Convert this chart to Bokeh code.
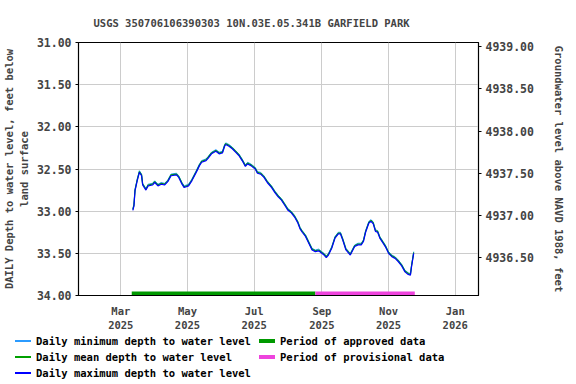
from datetime import datetime
from bokeh.plotting import figure
from bokeh.layouts import column
from bokeh.models import (Range1d, LinearAxis, FixedTicker, PrintfTickFormatter,
                          DatetimeTickFormatter, Div)
from bokeh.embed import file_html
from bokeh.resources import INLINE

TITLE = "USGS 350706106390303 10N.03E.05.341B GARFIELD PARK"
Y_LABEL_LEFT = "DAILY Depth to water level, feet below\nland surface"
Y_LABEL_RIGHT = "Groundwater level above NAVD 1988, feet"
DATUM_OFFSET = 4970.05  # elevation = DATUM_OFFSET - depth

DATES = [
    "2025-03-12", "2025-03-13", "2025-03-14", "2025-03-16", "2025-03-18", "2025-03-20",
    "2025-03-21", "2025-03-24", "2025-03-26", "2025-03-30", "2025-04-01", "2025-04-04",
    "2025-04-07", "2025-04-10", "2025-04-13", "2025-04-16", "2025-04-21", "2025-04-23",
    "2025-04-26", "2025-04-28", "2025-05-02", "2025-05-05", "2025-05-09", "2025-05-12",
    "2025-05-14", "2025-05-18", "2025-05-20", "2025-05-23", "2025-05-27", "2025-05-30",
    "2025-06-02", "2025-06-04", "2025-06-05", "2025-06-08", "2025-06-11", "2025-06-14",
    "2025-06-17", "2025-06-20", "2025-06-23", "2025-06-25", "2025-06-28", "2025-07-02",
    "2025-07-04", "2025-07-07", "2025-07-10", "2025-07-13", "2025-07-17", "2025-07-20",
    "2025-07-23", "2025-07-26", "2025-07-29", "2025-08-01", "2025-08-04", "2025-08-07",
    "2025-08-10", "2025-08-12", "2025-08-14", "2025-08-17", "2025-08-20", "2025-08-23",
    "2025-08-26", "2025-08-29", "2025-09-03", "2025-09-05", "2025-09-07", "2025-09-10",
    "2025-09-13", "2025-09-16", "2025-09-18", "2025-09-20", "2025-09-23", "2025-09-27",
    "2025-09-29", "2025-10-01", "2025-10-04", "2025-10-07", "2025-10-09", "2025-10-11",
    "2025-10-14", "2025-10-16", "2025-10-18", "2025-10-20", "2025-10-22", "2025-10-24",
    "2025-10-27", "2025-10-29", "2025-11-01", "2025-11-04", "2025-11-07", "2025-11-10",
    "2025-11-13", "2025-11-16", "2025-11-19", "2025-11-21", "2025-11-22", "2025-11-24",
]

DEPTH_MEAN = [
    32.98, 32.93, 32.75, 32.63, 32.53, 32.57,
    32.68, 32.74, 32.69, 32.68, 32.65, 32.69,
    32.67, 32.68, 32.64, 32.57, 32.56, 32.59,
    32.67, 32.71, 32.69, 32.63, 32.53, 32.45,
    32.41, 32.39, 32.36, 32.31, 32.28, 32.31,
    32.30, 32.22, 32.20, 32.22, 32.25, 32.29,
    32.33, 32.39, 32.46, 32.43, 32.45, 32.49,
    32.54, 32.55, 32.59, 32.65, 32.71, 32.77,
    32.82, 32.86, 32.92, 32.98, 33.01, 33.06,
    33.13, 33.20, 33.24, 33.29, 33.37, 33.45,
    33.47, 33.46, 33.51, 33.54, 33.51, 33.43,
    33.31, 33.26, 33.26, 33.33, 33.45, 33.51,
    33.46, 33.41, 33.39, 33.39, 33.35, 33.24,
    33.13, 33.11, 33.14, 33.23, 33.24, 33.31,
    33.37, 33.41, 33.49, 33.53, 33.55, 33.59,
    33.64, 33.71, 33.74, 33.75, 33.65, 33.49,
]

DEPTH_MIN = [
    32.97, 32.92, 32.74, 32.62, 32.52, 32.56,
    32.67, 32.73, 32.68, 32.67, 32.64, 32.68,
    32.66, 32.67, 32.63, 32.56, 32.55, 32.58,
    32.66, 32.70, 32.68, 32.62, 32.52, 32.44,
    32.40, 32.38, 32.35, 32.30, 32.27, 32.30,
    32.29, 32.21, 32.19, 32.21, 32.24, 32.28,
    32.32, 32.38, 32.45, 32.42, 32.44, 32.48,
    32.53, 32.54, 32.58, 32.64, 32.70, 32.76,
    32.81, 32.85, 32.91, 32.97, 33.00, 33.05,
    33.12, 33.19, 33.23, 33.28, 33.36, 33.44,
    33.46, 33.45, 33.50, 33.53, 33.50, 33.42,
    33.30, 33.25, 33.25, 33.32, 33.44, 33.50,
    33.45, 33.40, 33.38, 33.38, 33.34, 33.23,
    33.12, 33.10, 33.13, 33.22, 33.23, 33.30,
    33.36, 33.40, 33.48, 33.52, 33.54, 33.58,
    33.63, 33.70, 33.73, 33.74, 33.64, 33.48,
]

DEPTH_MAX = [
    32.99, 32.94, 32.76, 32.64, 32.54, 32.58,
    32.69, 32.75, 32.70, 32.69, 32.66, 32.70,
    32.68, 32.69, 32.65, 32.58, 32.57, 32.60,
    32.68, 32.72, 32.70, 32.64, 32.54, 32.46,
    32.42, 32.40, 32.37, 32.32, 32.29, 32.32,
    32.31, 32.23, 32.21, 32.23, 32.26, 32.30,
    32.34, 32.40, 32.47, 32.44, 32.46, 32.50,
    32.55, 32.56, 32.60, 32.66, 32.72, 32.78,
    32.83, 32.87, 32.93, 32.99, 33.02, 33.07,
    33.14, 33.21, 33.25, 33.30, 33.38, 33.46,
    33.48, 33.47, 33.52, 33.55, 33.52, 33.44,
    33.32, 33.27, 33.27, 33.34, 33.46, 33.52,
    33.47, 33.42, 33.40, 33.40, 33.36, 33.25,
    33.14, 33.12, 33.15, 33.24, 33.25, 33.32,
    33.38, 33.42, 33.50, 33.54, 33.56, 33.60,
    33.65, 33.72, 33.75, 33.76, 33.66, 33.50,
]

APPROVED_PERIOD = ["2025-03-11", "2025-08-26"]
PROVISIONAL_PERIOD = ["2025-08-26", "2025-11-25"]
PERIOD_BAR_DEPTH = 33.975

LEGEND_LABELS = [
    "Daily minimum depth to water level",
    "Daily mean depth to water level",
    "Daily maximum depth to water level",
    "Period of approved data",
    "Period of provisional data",
]

X_TICKS = ["2025-03-01", "2025-05-01", "2025-07-01", "2025-09-01", "2025-11-01", "2026-01-01"]
Y_TICKS_LEFT = [31.0, 31.5, 32.0, 32.5, 33.0, 33.5, 34.0]
Y_TICKS_RIGHT = [4936.5, 4937.0, 4937.5, 4938.0, 4938.5, 4939.0]

FONT = "DejaVu Sans Mono"
C_MIN, C_MEAN, C_MAX = "#2b9bff", "#00a000", "#0000ff"
C_APPR, C_PROV = "#009900", "#ee44dd"


def to_dt(s):
    return datetime.strptime(s, "%Y-%m-%d")


def to_ms(d):
    return (d - datetime(1970, 1, 1)).total_seconds() * 1000.0


dates = [to_dt(s) for s in DATES]

p = figure(width=576, height=334, output_backend="svg", toolbar_location=None,
           x_axis_type="datetime",
           x_range=Range1d(datetime(2025, 1, 21, 7), datetime(2026, 1, 22, 7)),
           y_range=Range1d(34.0, 31.0),
           min_border_left=78, min_border_right=98, min_border_top=40, min_border_bottom=39)

p.extra_y_ranges = {"elev": Range1d(DATUM_OFFSET - 34.0, DATUM_OFFSET - 31.0)}

p.background_fill_color = "white"
p.border_fill_color = "white"
p.outline_line_color = "black"
p.outline_line_width = 1.2

# title
p.title.text = TITLE
p.title.text_font = FONT
p.title.text_font_style = "bold"
p.title.text_font_size = "10.5px"
p.title.align = "left"
p.title.offset = 15
p.title.standoff = 28

# x axis
xa = p.xaxis[0]
xa.ticker = FixedTicker(ticks=[to_ms(to_dt(s)) for s in X_TICKS])
fmt = "%b\n%Y"
xa.formatter = DatetimeTickFormatter(days=fmt, months=fmt, years=fmt, hours=fmt)
xa.major_label_text_font = FONT
xa.major_label_text_font_style = "bold"
xa.major_label_text_font_size = "10.5px"
xa.major_tick_in = 0
xa.major_tick_out = 0
xa.minor_tick_in = 0
xa.minor_tick_out = 0
xa.major_label_standoff = 9
xa.axis_line_color = "black"

# left axis
ya = p.yaxis[0]
ya.ticker = FixedTicker(ticks=Y_TICKS_LEFT)
ya.formatter = PrintfTickFormatter(format="%.2f")
ya.major_label_text_font = FONT
ya.major_label_text_font_style = "bold"
ya.major_label_text_font_size = "11.5px"
ya.major_tick_in = 0
ya.major_tick_out = 3
ya.minor_tick_in = 0
ya.minor_tick_out = 0
ya.major_label_standoff = 4
ya.axis_label = Y_LABEL_LEFT
ya.axis_label_text_font = FONT
ya.axis_label_text_font_style = "bold"
ya.axis_label_text_font_size = "10.5px"
ya.axis_label_standoff = 4

# right axis
ra = LinearAxis(y_range_name="elev", ticker=FixedTicker(ticks=Y_TICKS_RIGHT),
                formatter=PrintfTickFormatter(format="%.2f"))
ra.major_label_text_font = FONT
ra.major_label_text_font_style = "bold"
ra.major_label_text_font_size = "11.5px"
ra.major_tick_in = 0
ra.major_tick_out = 3
ra.minor_tick_in = 0
ra.minor_tick_out = 0
ra.major_label_standoff = 4
ra.axis_label = Y_LABEL_RIGHT
ra.axis_label_text_font = FONT
ra.axis_label_text_font_style = "bold"
ra.axis_label_text_font_size = "10.5px"
ra.axis_label_standoff = 16
p.add_layout(ra, "right")

# grids
p.xgrid.grid_line_color = "#cccccc"
p.ygrid.grid_line_color = "#cccccc"
p.xgrid.grid_line_width = 1
p.ygrid.grid_line_width = 1

# data
p.line(dates, DEPTH_MIN, line_color=C_MIN, line_width=1)
p.line(dates, DEPTH_MEAN, line_color=C_MEAN, line_width=1.2)
p.line(dates, DEPTH_MAX, line_color=C_MAX, line_width=1.2)
p.line([to_dt(s) for s in APPROVED_PERIOD], [PERIOD_BAR_DEPTH] * 2,
       line_color=C_APPR, line_width=4)
p.line([to_dt(s) for s in PROVISIONAL_PERIOD], [PERIOD_BAR_DEPTH] * 2,
       line_color=C_PROV, line_width=4)

# legend strip below the chart (two columns: 3 series + 2 periods)
swatches = [(C_MIN, 2), (C_MEAN, 2), (C_MAX, 2), (C_APPR, 4), (C_PROV, 4)]
col_x = [15, 15, 15, 259, 259]
row_c = [7, 23, 39, 7, 23]
parts = []
for label, (c, h), x0, yc in zip(LEGEND_LABELS, swatches, col_x, row_c):
    parts.append(
        f'<div style="position:absolute;left:{x0}px;top:{yc - h // 2}px;'
        f'width:16px;height:{h}px;background-color:{c};"></div>')
    parts.append(
        f'<div style="position:absolute;left:{x0 + 21}px;top:{yc - 7}px;height:14px;'
        f'line-height:14px;white-space:nowrap;font-family:\'{FONT}\';font-weight:bold;'
        f'font-size:10.5px;color:black;">{label}</div>')
legend_html = ('<div style="position:relative;width:576px;height:50px;margin:0;padding:0;">'
               + "".join(parts) + "</div>")
legend_div = Div(text=legend_html, width=576, height=50, margin=0)

layout = column(p, legend_div, spacing=0)
open("out.html", "w").write(file_html(layout, INLINE))
